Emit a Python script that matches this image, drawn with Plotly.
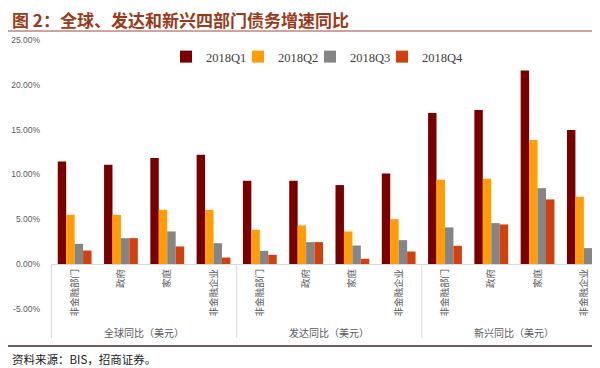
import plotly.graph_objects as go

group_names = ["全球同比（美元）", "发达同比（美元）", "新兴同比（美元）"]
sector_names = ["非金融部门", "政府", "家庭", "非金融企业"]
series_names = ["2018Q1", "2018Q2", "2018Q3", "2018Q4"]
q1 = [11.46, 11.08, 11.83, 12.20, 9.30, 9.30, 8.82, 10.12, 16.85, 17.20, 21.60, 14.95]
q2 = [5.50, 5.50, 6.06, 6.06, 3.83, 4.32, 3.65, 5.02, 9.41, 9.52, 13.84, 7.51]
q3 = [2.27, 2.90, 3.65, 2.34, 1.49, 2.46, 2.08, 2.68, 4.10, 4.58, 8.48, 1.79]
q4 = [1.52, 2.90, 1.97, 0.74, 1.04, 2.46, 0.60, 1.41, 2.05, 4.43, 7.22, -0.58]
y_ticks = [-5, 0, 5, 10, 15, 20, 25]
y_tick_labels = ["-5.00%", "0.00%", "5.00%", "10.00%", "15.00%", "20.00%", "25.00%"]

colors = ["#7a0000", "#ff9c06", "#858585", "#d2400e"]
CJK = "Noto Sans CJK SC"

# unique category keys (group + sector), labelled with the sector name only
keys = [g + "|" + s for g in group_names for s in sector_names]
labels = [s for g in group_names for s in sector_names]

PL, PW = 43, 556   # plot left and width in px
PT, PH = 32, 269   # plot top and height in px
def py(px):  # pixel row -> paper y
    return (PT + PH - px) / PH
def pxx(px):  # pixel column -> paper x
    return (px - PL) / PW

fig = go.Figure()
legend_ids = ["legend", "legend2", "legend3", "legend4"]
for i, (name, vals, col) in enumerate(zip(series_names, [q1, q2, q3, q4], colors)):
    fig.add_trace(go.Bar(x=keys, y=vals, name=name, legend=legend_ids[i],
                         marker=dict(color=col, line=dict(width=0))))

legend_style = dict(orientation="h", xanchor="left", y=py(49), yanchor="middle",
                    font=dict(family="Liberation Serif", size=12.5, color="#404040"),
                    itemwidth=30, bgcolor="rgba(0,0,0,0)", borderwidth=0)

fig.update_layout(
    width=600, height=368,
    margin=dict(l=PL, r=600 - PL - PW, t=PT, b=368 - PT - PH),
    paper_bgcolor="white", plot_bgcolor="white",
    barmode="group", bargap=0.27, bargroupgap=0,
    showlegend=True,
    font=dict(family=CJK),
)
for i, lid in enumerate(legend_ids):
    fig.update_layout({lid: dict(legend_style, x=pxx(158 + 72 * i))})

fig.update_yaxes(range=[-5, 25], tickvals=y_ticks, ticktext=y_tick_labels,
                 showgrid=False, zeroline=False, showline=False, ticks="",
                 ticklabelstandoff=10,
                 tickfont=dict(family="Liberation Sans", size=8.5, color="#595959"))
fig.update_xaxes(type="category", categoryorder="array", categoryarray=keys,
                 tickvals=keys, ticktext=labels,
                 anchor="free", position=5 / 30,
                 showline=True, linecolor="#d9d9d9", linewidth=1,
                 showgrid=False, ticks="", tickangle=-90,
                 tickfont=dict(family=CJK, size=9.5, color="#595959"))

# group dividers and group labels
n = len(sector_names)
for gi, g in enumerate(group_names):
    fig.add_shape(type="line", xref="x", yref="paper", x0=gi * n - 0.5, x1=gi * n - 0.5,
                  y0=5 / 30, y1=py(330), line=dict(color="#d9d9d9", width=1))
    fig.add_annotation(text=g, xref="x", yref="paper", x=gi * n + (n - 1) / 2,
                       y=py(324), yanchor="middle", showarrow=False,
                       font=dict(family=CJK, size=10, color="#595959"))

# title, title underline and bottom rule, source note
fig.add_annotation(text="<b>图 2：全球、发达和新兴四部门债务增速同比</b>",
                   xref="paper", yref="paper", x=pxx(2), xanchor="left",
                   y=py(11), yanchor="middle", showarrow=False,
                   font=dict(family=CJK, size=17, color="#9a3a1a"))
fig.add_shape(type="line", xref="paper", yref="paper", x0=pxx(0), x1=pxx(600),
              y0=py(23), y1=py(23), line=dict(color="#a0463a", width=1))
fig.add_shape(type="line", xref="paper", yref="paper", x0=pxx(0), x1=pxx(600),
              y0=py(338), y1=py(338), line=dict(color="#6e5e5e", width=2))
fig.add_annotation(text="资料来源：BIS，招商证券。", xref="paper", yref="paper",
                   x=pxx(2), xanchor="left", y=py(351), yanchor="middle",
                   showarrow=False, font=dict(family=CJK, size=11.5, color="#1a1a1a"))

fig.write_html("out.html")
